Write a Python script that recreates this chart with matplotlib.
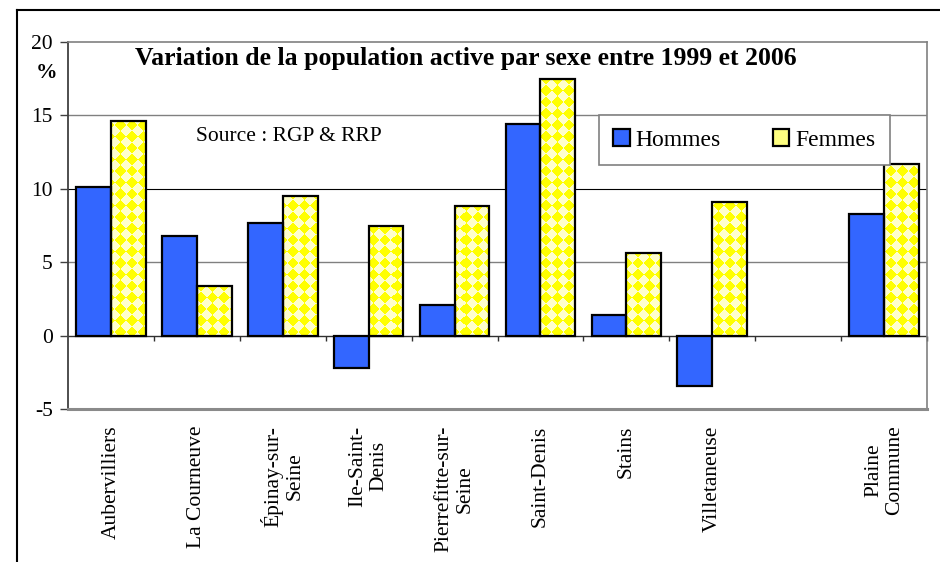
import numpy as np
import matplotlib as mpl
import matplotlib.pyplot as plt
from matplotlib.lines import Line2D
from matplotlib.patches import Patch


COMMUNES = [
    "Aubervilliers",
    "La Courneuve",
    "Épinay-sur-\nSeine",
    "Ile-Saint-\nDenis",
    "Pierrefitte-sur-\nSeine",
    "Saint-Denis",
    "Stains",
    "Villetaneuse",
    "",
    "Plaine\nCommune",
]
HOMMES = [10.1, 6.8, 7.7, -2.2, 2.1, 14.4, 1.4, -3.4, np.nan, 8.3]
FEMMES = [14.6, 3.4, 9.5, 7.5, 8.8, 17.5, 5.6, 9.1, np.nan, 11.7]
Y_TICKS = [-5, 0, 5, 10, 15, 20]

BLUE = "#3366ff"
YELLOW = "#ffff00"
PALE = "#ffffcc"


def diamond_fill(ax, bar, step=11.5):
    # yellow / pale diamond checkerboard, drawn in screen pixels and clipped to the bar
    bb = bar.get_window_extent()
    x0, x1 = int(np.floor(bb.x0)), int(np.ceil(bb.x1))
    y0, y1 = int(np.floor(bb.y0)), int(np.ceil(bb.y1))
    X, Y = np.meshgrid(np.arange(x0, x1) + 0.5, np.arange(y0, y1) + 0.5)
    u = np.floor((X + Y) / step)
    v = np.floor((X - Y) / step)
    mask = ((u + v) % 2) == 0
    img = np.zeros(mask.shape + (3,))
    img[mask] = mpl.colors.to_rgb(YELLOW)
    img[~mask] = mpl.colors.to_rgb(PALE)
    inv = ax.transData.inverted()
    (dx0, dy0), (dx1, dy1) = inv.transform([(x0, y0), (x1, y1)])
    im = ax.imshow(img, extent=(dx0, dx1, dy0, dy1), origin="lower",
                   aspect="auto", interpolation="nearest", zorder=2.5)
    im.set_clip_path(bar)


def main():
    mpl.rcParams.update({
        "font.family": "serif",
        "font.serif": ["Liberation Serif", "DejaVu Serif"],
        "font.size": 15.5,
    })

    fig = plt.figure(figsize=(9.4, 5.62), dpi=100)
    ax = fig.add_axes([68 / 940, 1 - 409 / 562, 859 / 940, 367 / 562])

    x = np.arange(len(COMMUNES))
    w = 0.405
    ax.set_xlim(-0.5, len(COMMUNES) - 0.5)
    ax.set_ylim(-5, 20)

    for yv in [5, 15]:
        ax.axhline(yv, color="#808080", lw=1.0, zorder=0)
    ax.axhline(10, color="#000000", lw=0.8, zorder=0)
    ax.axhline(0, color="#303030", lw=1.0, zorder=1)

    ax.bar(x - w / 2, HOMMES, w, color=BLUE, edgecolor="black", lw=1.6, zorder=3)
    f_bars = ax.bar(x + w / 2, FEMMES, w, color=PALE, edgecolor="none", zorder=2)
    for bar in f_bars:
        if np.isfinite(bar.get_height()):
            diamond_fill(ax, bar)
    ax.bar(x + w / 2, FEMMES, w, fill=False, edgecolor="black", lw=1.6, zorder=3)

    # small ticks on the zero line between communes
    bounds = np.arange(len(COMMUNES) + 1) - 0.5
    ax.vlines(bounds[1:], -0.35, 0, color="#303030", lw=1.0, zorder=1, clip_on=False)

    ax.set_yticks(Y_TICKS)
    ax.set_yticklabels([str(t) for t in Y_TICKS])
    ax.tick_params(axis="y", length=6, width=1.0, color="#404040", pad=5, labelsize=15.5)
    ax.set_xticks(x)
    ax.set_xticklabels(COMMUNES, rotation=90, va="top", ha="center",
                       multialignment="center", linespacing=1.15)
    ax.tick_params(axis="x", length=0, pad=12, labelsize=15.5)

    for side in ["top", "right"]:
        ax.spines[side].set_color("#808080")
        ax.spines[side].set_linewidth(1.2)
    ax.spines["bottom"].set_color("#8a8a8a")
    ax.spines["bottom"].set_linewidth(2.2)
    ax.spines["left"].set_color("#404040")
    ax.spines["left"].set_linewidth(1.3)

    fig.text(466 / 940, 1 - 58 / 562, "Variation de la population active par sexe entre 1999 et 2006",
             ha="center", va="center", fontsize=18.5, fontweight="bold")
    fig.text(46 / 940, 1 - 73 / 562, "%", ha="center", va="center", fontsize=15.5, fontweight="bold")
    fig.text(196 / 940, 1 - 137 / 562, "Source : RGP & RRP", ha="left", va="center", fontsize=15.5)

    handles = [
        Patch(facecolor=BLUE, edgecolor="black", lw=1.6),
        Patch(facecolor="#ffff80", edgecolor="black", lw=1.6),
    ]
    leg = ax.legend(handles, ["Hommes", "Femmes"], ncol=2, loc="upper left",
                    bbox_to_anchor=(599 / 940, 1 - 115 / 562), bbox_transform=fig.transFigure,
                    fancybox=False, framealpha=1, edgecolor="#808080", fontsize=17,
                    handlelength=0.7, handleheight=0.7, handletextpad=0.25,
                    columnspacing=2.2, borderpad=0.6, borderaxespad=0)
    leg.get_frame().set_linewidth(1.2)
    leg.set_zorder(5)

    # outer frame of the chart sheet
    fig.add_artist(Line2D([17 / 940, 17 / 940], [0, 1 - 10 / 562], color="black", lw=1.5))
    fig.add_artist(Line2D([17 / 940, 1], [1 - 10 / 562, 1 - 10 / 562], color="black", lw=1.5))

    fig.savefig("out.png", dpi=100, facecolor="white")
    plt.close(fig)


if __name__ == "__main__":
    main()
